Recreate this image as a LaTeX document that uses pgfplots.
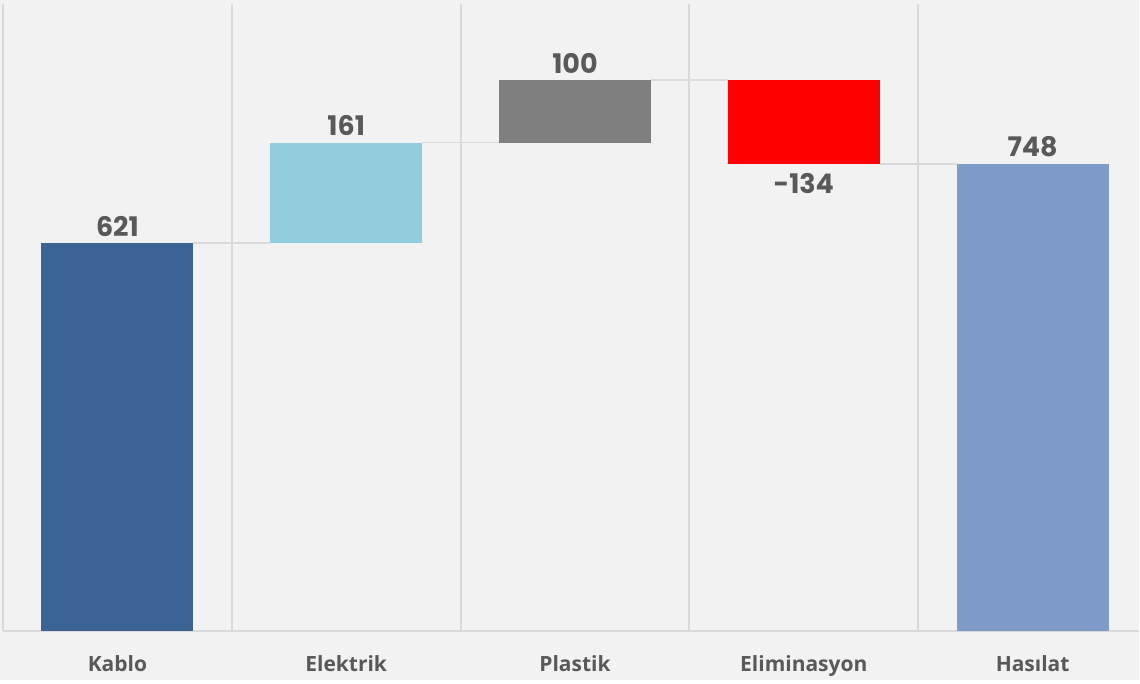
\documentclass[border=0pt]{standalone}
\usepackage{pgfplots}
\pgfplotsset{compat=1.18}
\usepackage{fontspec}
\setmainfont{Open Sans}
\newfontfamily\valfont{Poppins}

\definecolor{bg}{HTML}{F2F2F2}
\definecolor{gridc}{HTML}{D9D9D9}
\definecolor{lab}{HTML}{595959}
\definecolor{kablo}{HTML}{3B6394}
\definecolor{elek}{HTML}{93CDDD}
\definecolor{plast}{HTML}{7F7F7F}
\definecolor{elim}{HTML}{FF0000}
\definecolor{hasil}{HTML}{7F9CC8}

\pgfplotsset{
  wf/.style={
      scale only axis,
      width=568.5pt, height=313.5pt,
      at={(0,0)}, anchor=south west,
      xmin=-0.5, xmax=4.465,
      ymin=0, ymax=1003,
      clip=false,
    },
}

\begin{document}
\begin{tikzpicture}
  % background of the whole picture
  \fill[bg] (-1.5pt,-24.75pt) rectangle ++(570pt,340.5pt);

  \begin{axis}[
      wf,
      axis x line*=bottom, axis y line*=left,
      axis line style={draw=gridc, line width=1pt, -},
      ytick=\empty,
      xtick={0,1,2,3,4},
      xticklabels={Kablo,Elektrik,Plastik,Eliminasyon,Hasılat},
      minor xtick={0.5,1.5,2.5,3.5},
      xminorgrids=true,
      minor grid style={draw=gridc, line width=1pt},
      major tick length=0pt, minor tick length=0pt,
      xticklabel style={font=\bfseries\fontsize{10.5}{12}\selectfont, text=lab, anchor=base, yshift=-20.5pt},
      ybar stacked,
      bar width=0.664,
    ]
    % invisible base of the floating bars
    \addplot[draw=none, fill=none] coordinates {(0,0) (1,621) (2,782) (3,748) (4,0)};
    \addplot[draw=none, fill=kablo] coordinates {(0,621) (1,0) (2,0) (3,0) (4,0)};
    \addplot[draw=none, fill=elek] coordinates {(0,0) (1,161) (2,0) (3,0) (4,0)};
    \addplot[draw=none, fill=plast] coordinates {(0,0) (1,0) (2,100) (3,0) (4,0)};
    \addplot[draw=none, fill=elim] coordinates {(0,0) (1,0) (2,0) (3,134) (4,0)};
    \addplot[draw=none, fill=hasil] coordinates {(0,0) (1,0) (2,0) (3,0) (4,748)};
  \end{axis}

  \begin{axis}[wf, hide axis]
    % connectors
    \addplot[draw=gridc, line width=0.8pt] coordinates {(0.332,621) (0.668,621)};
    \addplot[draw=gridc, line width=0.8pt] coordinates {(1.332,782) (1.668,782)};
    \addplot[draw=gridc, line width=0.8pt] coordinates {(2.332,882) (2.668,882)};
    \addplot[draw=gridc, line width=0.8pt] coordinates {(3.332,748) (3.668,748)};

    % value labels
    \begin{scope}[every node/.style={font=\valfont\bfseries\fontsize{13.5}{15}\selectfont, text=lab, anchor=base, inner sep=0pt}]
      \node[yshift=3.5pt] at (axis cs:0,621) {621};
      \node[yshift=3.5pt] at (axis cs:1,782) {161};
      \node[yshift=3.5pt] at (axis cs:2,882) {100};
      \node[yshift=-14.75pt] at (axis cs:3,748) {-134};
      \node[yshift=3.5pt] at (axis cs:4,748) {748};
    \end{scope}
  \end{axis}
\end{tikzpicture}
\end{document}
